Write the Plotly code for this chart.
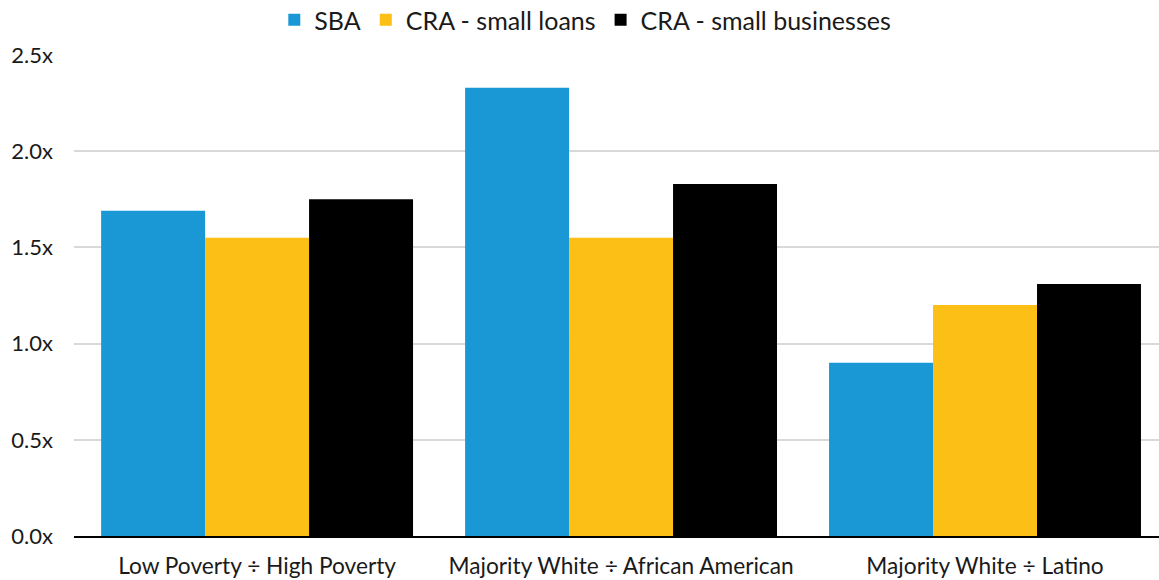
import plotly.graph_objects as go

categories = ["Low Poverty ÷ High Poverty", "Majority White ÷ African American", "Majority White ÷ Latino"]
sba = [1.69, 2.33, 0.90]
cra_small_loans = [1.55, 1.55, 1.20]
cra_small_businesses = [1.75, 1.83, 1.31]

series = [
    ("SBA", sba, "#1a98d5"),
    ("CRA - small loans", cra_small_loans, "#fbbf15"),
    ("CRA - small businesses", cra_small_businesses, "#000000"),
]

fig = go.Figure()
for name, vals, color in series:
    fig.add_trace(go.Bar(
        x=list(range(len(categories))), y=vals, name=name,
        marker=dict(color=color, line=dict(width=0)),
    ))

fig.update_layout(
    width=1159, height=580,
    barmode="group", bargap=0.143, bargroupgap=0,
    plot_bgcolor="white", paper_bgcolor="white",
    margin=dict(l=74, r=0, t=55, b=44, autoexpand=False),
    font=dict(family="Lato", size=23, color="#1a1a1a"),
    legend=dict(orientation="h", xref="container", x=0.505, xanchor="center",
                yref="container", y=1 - 20 / 580, yanchor="middle",
                font=dict(size=25), itemwidth=30, traceorder="normal"),
    xaxis=dict(
        tickmode="array", tickvals=[0, 1, 2], ticktext=categories,
        range=[-0.503, 2.478], showgrid=False, showline=True,
        linecolor="black", linewidth=2, ticks="", tickfont=dict(size=22.7),
        ticklabelstandoff=9,
    ),
    yaxis=dict(
        range=[0, 2.5], tickvals=[0, 0.5, 1.0, 1.5, 2.0, 2.5],
        ticktext=["0.0x", "0.5x", "1.0x", "1.5x", "2.0x", "2.5x"],
        showgrid=True, gridcolor="#d9d9d9", gridwidth=2,
        zeroline=False, showline=False, ticks="", tickfont=dict(size=22),
        ticklabelstandoff=20,
    ),
)

fig.write_html("out.html")
